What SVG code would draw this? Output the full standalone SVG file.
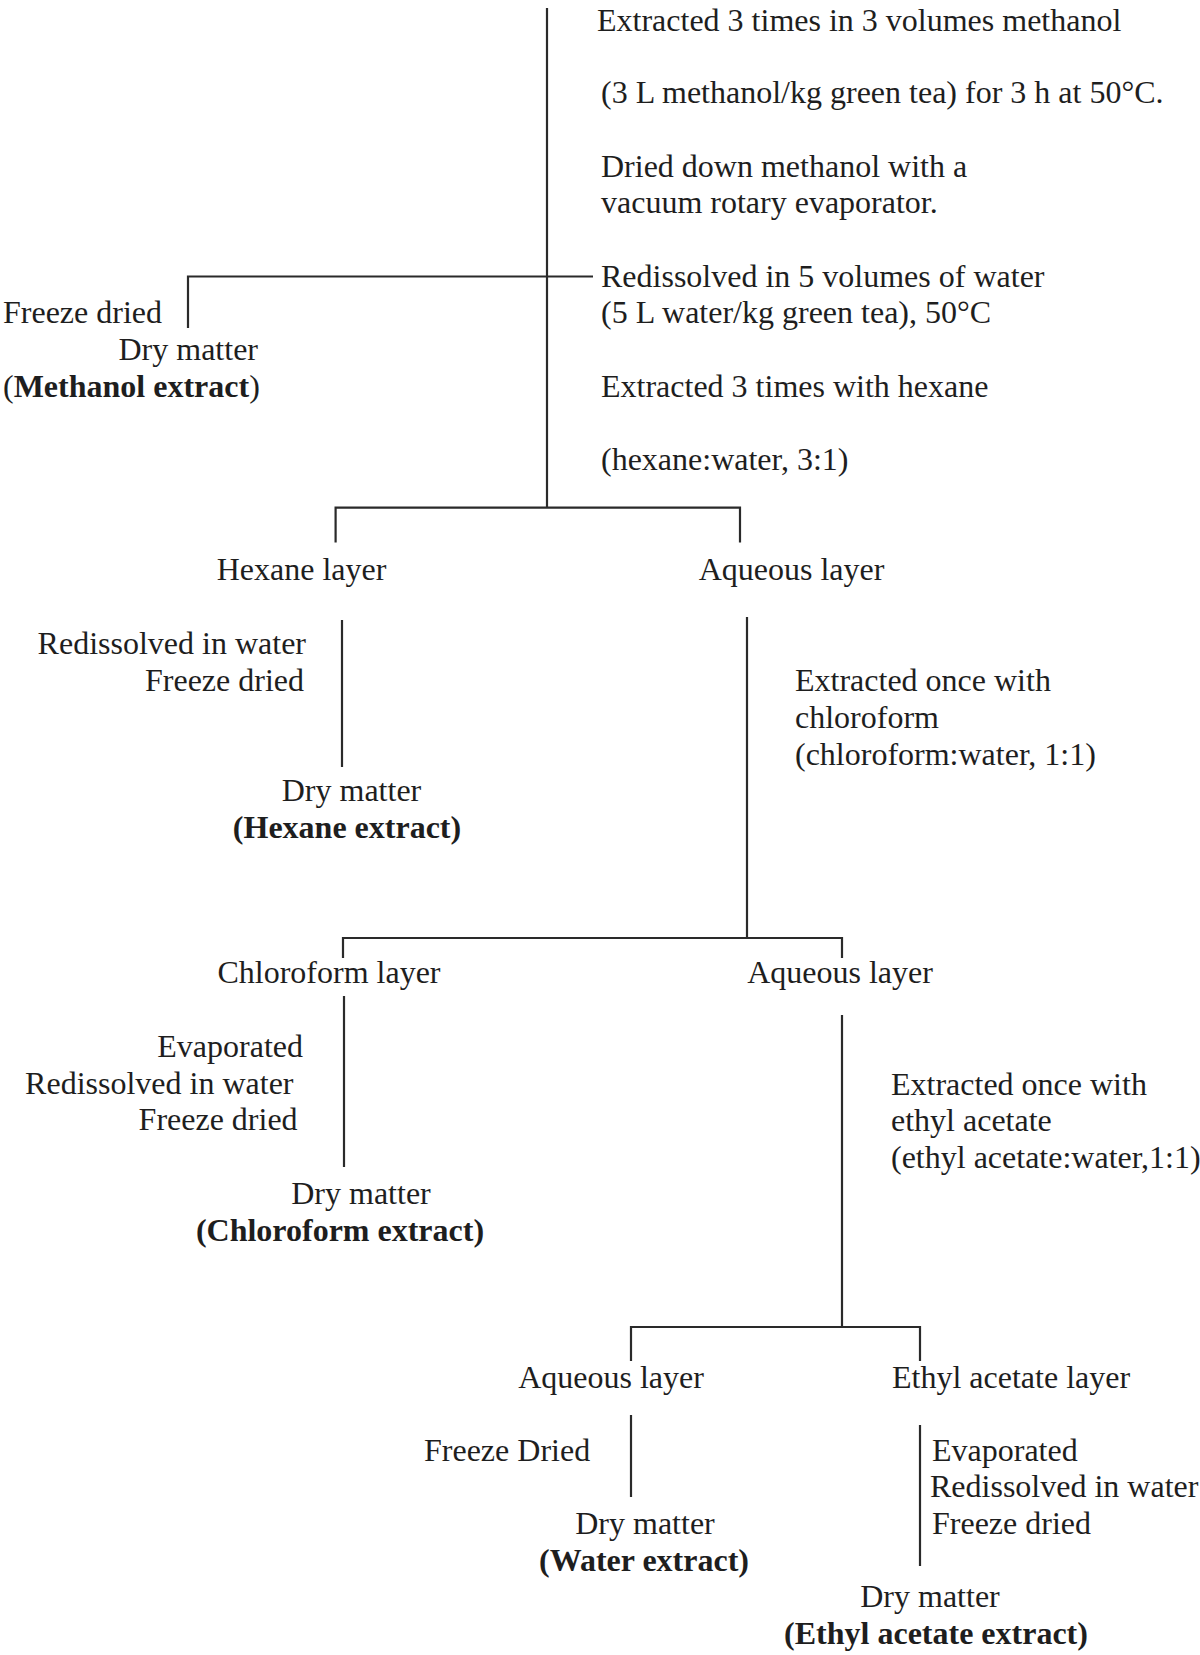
<svg xmlns="http://www.w3.org/2000/svg" width="1200" height="1655" viewBox="0 0 1200 1655">
<style>
  text { font-family: "Liberation Serif", "Times New Roman", serif; font-size: 32px; fill: #1e1e1e; }
  .b { font-weight: bold; }
  .e { text-anchor: end; }
  .m { text-anchor: middle; }
  .ln { stroke: #2a2a2a; stroke-width: 2.2; fill: none; }
</style>
<rect width="1200" height="1655" fill="#ffffff"/>
<g id="connectors">
  <line class="ln" x1="547" y1="8" x2="547" y2="508"/>
  <polyline class="ln" points="188,328 188,276.5 593,276.5"/>
  <polyline class="ln" points="335.6,542.5 335.6,507.6 740,507.6 740,542.5"/>
  <line class="ln" x1="342" y1="620" x2="342" y2="767"/>
  <line class="ln" x1="747" y1="617" x2="747" y2="939"/>
  <polyline class="ln" points="343,958 343,938 842,938 842,958"/>
  <line class="ln" x1="344" y1="996" x2="344" y2="1167"/>
  <line class="ln" x1="842" y1="1015" x2="842" y2="1328"/>
  <polyline class="ln" points="631,1361 631,1327 920,1327 920,1361"/>
  <line class="ln" x1="631" y1="1415" x2="631" y2="1497"/>
  <line class="ln" x1="920" y1="1425" x2="920" y2="1566"/>
</g>
<g id="step-methanol">
  <text x="597" y="31">Extracted 3 times in 3 volumes methanol</text>
  <text x="601" y="103">(3 L methanol/kg green tea) for 3 h at 50°C.</text>
  <text x="601" y="177">Dried down methanol with a</text>
  <text x="601" y="213">vacuum rotary evaporator.</text>
  <text x="601" y="287">Redissolved in 5 volumes of water</text>
  <text x="601" y="323">(5 L water/kg green tea), 50°C</text>
  <text x="601" y="397">Extracted 3 times with hexane</text>
  <text x="601" y="470">(hexane:water, 3:1)</text>
</g>
<g id="methanol-extract">
  <text x="3" y="323">Freeze dried</text>
  <text x="258" y="360" class="e">Dry matter</text>
  <text x="3" y="397">(<tspan class="b">Methanol extract</tspan>)</text>
</g>
<g id="hexane-layer">
  <text x="301.5" y="580" class="m">Hexane layer</text>
  <text x="306" y="654" class="e">Redissolved in water</text>
  <text x="304" y="691" class="e">Freeze dried</text>
</g>
<g id="hexane-extract">
  <text x="351.5" y="801" class="m">Dry matter</text>
  <text x="347" y="838" class="m b">(Hexane extract)</text>
</g>
<g id="aqueous-layer-1">
  <text x="791.5" y="580" class="m">Aqueous layer</text>
  <text x="795" y="691">Extracted once with</text>
  <text x="795" y="728">chloroform</text>
  <text x="795" y="765">(chloroform:water, 1:1)</text>
</g>
<g id="chloroform-layer">
  <text x="329" y="983" class="m">Chloroform layer</text>
  <text x="303" y="1057" class="e">Evaporated</text>
  <text x="293.5" y="1094" class="e">Redissolved in water</text>
  <text x="297.6" y="1130" class="e">Freeze dried</text>
</g>
<g id="chloroform-extract">
  <text x="361" y="1204" class="m">Dry matter</text>
  <text x="340" y="1241" class="m b">(Chloroform extract)</text>
</g>
<g id="aqueous-layer-2">
  <text x="840" y="983" class="m">Aqueous layer</text>
  <text x="891" y="1095">Extracted once with</text>
  <text x="891" y="1131">ethyl acetate</text>
  <text x="891" y="1168">(ethyl acetate:water,1:1)</text>
</g>
<g id="aqueous-layer-3">
  <text x="611" y="1388" class="m">Aqueous layer</text>
  <text x="424" y="1461">Freeze Dried</text>
</g>
<g id="water-extract">
  <text x="645" y="1534" class="m">Dry matter</text>
  <text x="644" y="1571" class="m b">(Water extract)</text>
</g>
<g id="ethyl-acetate-layer">
  <text x="892" y="1388">Ethyl acetate layer</text>
  <text x="932" y="1461">Evaporated</text>
  <text x="930" y="1497">Redissolved in water</text>
  <text x="932" y="1534">Freeze dried</text>
</g>
<g id="ethyl-acetate-extract">
  <text x="930" y="1607" class="m">Dry matter</text>
  <text x="936" y="1644" class="m b">(Ethyl acetate extract)</text>
</g>
</svg>
